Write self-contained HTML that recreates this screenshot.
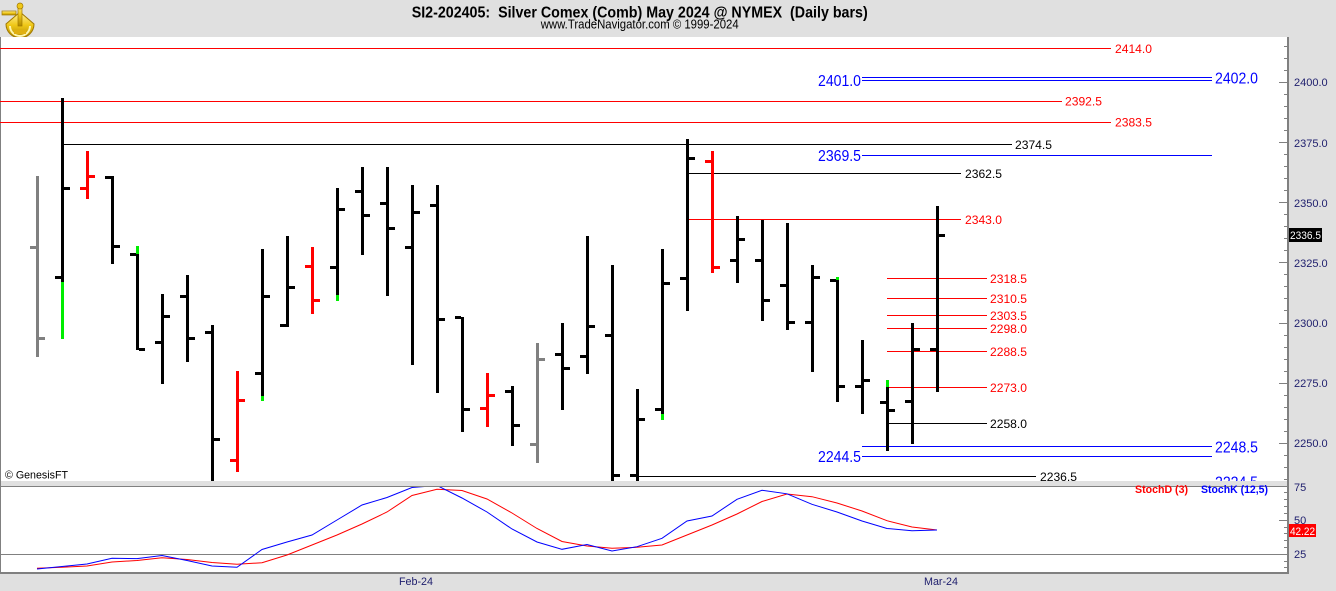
<!DOCTYPE html>
<html><head><meta charset="utf-8"><style>
html,body{margin:0;padding:0;background:#e0e0e0;}
svg{display:block;}
</style></head><body>
<svg width="1336" height="591" xmlns="http://www.w3.org/2000/svg" font-family="'Liberation Sans', Arial, sans-serif">
<defs>
<clipPath id="mc"><rect x="0" y="37" width="1287" height="444"/></clipPath>
<clipPath id="sc"><rect x="0" y="487" width="1287" height="85"/></clipPath>
<linearGradient id="gold" x1="0" y1="0" x2="0" y2="1"><stop offset="0" stop-color="#fff2a0"/><stop offset="0.5" stop-color="#f0c818"/><stop offset="1" stop-color="#b08a00"/></linearGradient>
</defs>
<rect width="1336" height="591" fill="#e0e0e0"/>
<!-- logo -->
<g>
<path d="M6 24 A14 14 0 0 0 34 24 L20 12 Z" fill="url(#gold)" stroke="#a07800" stroke-width="1"/>
<path d="M10 26 A10 10 0 0 0 30 26" fill="none" stroke="#fff6b0" stroke-width="2"/>
<rect x="2" y="11" width="14" height="4" fill="url(#gold)" stroke="#a07800" stroke-width="0.7"/>
<rect x="18" y="4" width="4" height="22" fill="url(#gold)" stroke="#a07800" stroke-width="0.7"/>
<circle cx="20" cy="6" r="3" fill="#f0c818" stroke="#a07800" stroke-width="0.7"/>
<rect x="14" y="30" width="12" height="4" fill="#e0b010"/>
</g>
<!-- title -->
<text x="411.7" y="17.5" font-size="16" font-weight="bold" fill="#000" textLength="456" lengthAdjust="spacingAndGlyphs" xml:space="preserve">SI2-202405:  Silver Comex (Comb) May 2024 @ NYMEX  (Daily bars)</text>
<text x="540.7" y="28.5" font-size="13" fill="#000" textLength="198" lengthAdjust="spacingAndGlyphs">www.TradeNavigator.com © 1999-2024</text>

<!-- panels -->
<rect x="0" y="37" width="1287" height="444" fill="#fff"/>
<rect x="0" y="486" width="1287" height="87" fill="#fff"/>
<rect x="0" y="486" width="1287" height="1" fill="#808080"/>
<rect x="0" y="554" width="1287" height="1" fill="#808080"/>
<rect x="0" y="572" width="1289" height="2" fill="#808080"/>
<rect x="0" y="37" width="1" height="537" fill="#808080"/>
<rect x="1287" y="37" width="2" height="537" fill="#808080"/>

<!-- price axis ticks -->
<g fill="#808080">
<rect x="1284" y="46" width="3" height="1"/><rect x="1284" y="58" width="3" height="1"/><rect x="1284" y="70" width="3" height="1"/>
<rect x="1279" y="82" width="8" height="1"/>
<rect x="1284" y="94" width="3" height="1"/><rect x="1284" y="106" width="3" height="1"/><rect x="1284" y="118" width="3" height="1"/><rect x="1284" y="130" width="3" height="1"/>
<rect x="1279" y="142" width="8" height="1"/>
<rect x="1284" y="154" width="3" height="1"/><rect x="1284" y="166" width="3" height="1"/><rect x="1284" y="178" width="3" height="1"/><rect x="1284" y="190" width="3" height="1"/>
<rect x="1279" y="202" width="8" height="1"/>
<rect x="1284" y="214" width="3" height="1"/><rect x="1284" y="226" width="3" height="1"/><rect x="1284" y="238" width="3" height="1"/><rect x="1284" y="250" width="3" height="1"/>
<rect x="1279" y="262" width="8" height="1"/>
<rect x="1284" y="274" width="3" height="1"/><rect x="1284" y="286" width="3" height="1"/><rect x="1284" y="298" width="3" height="1"/><rect x="1284" y="310" width="3" height="1"/>
<rect x="1279" y="323" width="8" height="1"/>
<rect x="1284" y="335" width="3" height="1"/><rect x="1284" y="347" width="3" height="1"/><rect x="1284" y="359" width="3" height="1"/><rect x="1284" y="371" width="3" height="1"/>
<rect x="1279" y="383" width="8" height="1"/>
<rect x="1284" y="395" width="3" height="1"/><rect x="1284" y="407" width="3" height="1"/><rect x="1284" y="419" width="3" height="1"/><rect x="1284" y="431" width="3" height="1"/>
<rect x="1279" y="443" width="8" height="1"/>
<rect x="1284" y="455" width="3" height="1"/><rect x="1284" y="467" width="3" height="1"/><rect x="1284" y="479" width="3" height="1"/>
<!-- stoch ticks -->
<rect x="1284" y="492" width="3" height="1"/><rect x="1284" y="499" width="3" height="1"/><rect x="1284" y="506" width="3" height="1"/><rect x="1284" y="513" width="3" height="1"/>
<rect x="1279" y="520" width="8" height="1"/>
<rect x="1284" y="527" width="3" height="1"/><rect x="1284" y="533" width="3" height="1"/><rect x="1284" y="540" width="3" height="1"/><rect x="1284" y="547" width="3" height="1"/>
<rect x="1284" y="554" width="3" height="1"/><rect x="1284" y="561" width="3" height="1"/><rect x="1284" y="567" width="3" height="1"/>
</g>

<!-- axis labels -->
<g font-size="11" fill="#20206e">
<text x="1294" y="86">2400.0</text>
<text x="1294" y="147">2375.0</text>
<text x="1294" y="207">2350.0</text>
<text x="1294" y="267">2325.0</text>
<text x="1294" y="327">2300.0</text>
<text x="1294" y="387">2275.0</text>
<text x="1294" y="447">2250.0</text>
<text x="1294" y="491">75</text>
<text x="1294" y="524">50</text>
<text x="1294" y="558">25</text>
<text x="399" y="585" textLength="34" lengthAdjust="spacingAndGlyphs">Feb-24</text>
<text x="924" y="585" textLength="34" lengthAdjust="spacingAndGlyphs">Mar-24</text>
</g>
<rect x="1289" y="228" width="33" height="14" fill="#000"/>
<text x="1290" y="239" font-size="11" fill="#fff" textLength="31" lengthAdjust="spacingAndGlyphs">2336.5</text>
<rect x="1289" y="524" width="27" height="13" fill="#ff0000"/>
<text x="1290" y="535" font-size="11" fill="#fff" textLength="25" lengthAdjust="spacingAndGlyphs">42.22</text>

<g clip-path="url(#mc)">
<!-- horizontal level lines -->
<rect x="0" y="48" width="1111" height="1" fill="#ff0000"/>
<rect x="862" y="77" width="350" height="1" fill="#0000ff"/>
<rect x="862" y="80" width="350" height="1" fill="#0000ff"/>
<rect x="0" y="101" width="1062" height="1" fill="#ff0000"/>
<rect x="0" y="122" width="1111" height="1" fill="#ff0000"/>
<rect x="63" y="144" width="949" height="1" fill="#000"/>
<rect x="862" y="155" width="350" height="1" fill="#0000ff"/>
<rect x="688" y="173" width="273" height="1" fill="#000"/>
<rect x="688" y="219" width="273" height="1" fill="#ff0000"/>
<rect x="887" y="278" width="100" height="1" fill="#ff0000"/>
<rect x="887" y="298" width="100" height="1" fill="#ff0000"/>
<rect x="887" y="315" width="100" height="1" fill="#ff0000"/>
<rect x="887" y="328" width="100" height="1" fill="#ff0000"/>
<rect x="887" y="351" width="100" height="1" fill="#ff0000"/>
<rect x="887" y="387" width="100" height="1" fill="#ff0000"/>
<rect x="889" y="423" width="98" height="1" fill="#000"/>
<rect x="862" y="446" width="350" height="1" fill="#0000ff"/>
<rect x="862" y="456" width="350" height="1" fill="#0000ff"/>
<rect x="637" y="476" width="399" height="1" fill="#000"/>

<!-- level labels -->
<g font-size="12">
<text x="1115" y="53" fill="#ff0000" textLength="37" lengthAdjust="spacingAndGlyphs">2414.0</text>
<text x="1065" y="105.7" fill="#ff0000" textLength="37" lengthAdjust="spacingAndGlyphs">2392.5</text>
<text x="1115" y="126.7" fill="#ff0000" textLength="37" lengthAdjust="spacingAndGlyphs">2383.5</text>
<text x="1015" y="149" fill="#000" textLength="37" lengthAdjust="spacingAndGlyphs">2374.5</text>
<text x="965" y="178" fill="#000" textLength="37" lengthAdjust="spacingAndGlyphs">2362.5</text>
<text x="965" y="224" fill="#ff0000" textLength="37" lengthAdjust="spacingAndGlyphs">2343.0</text>
<text x="990" y="283" fill="#ff0000" textLength="37" lengthAdjust="spacingAndGlyphs">2318.5</text>
<text x="990" y="303" fill="#ff0000" textLength="37" lengthAdjust="spacingAndGlyphs">2310.5</text>
<text x="990" y="320" fill="#ff0000" textLength="37" lengthAdjust="spacingAndGlyphs">2303.5</text>
<text x="990" y="333" fill="#ff0000" textLength="37" lengthAdjust="spacingAndGlyphs">2298.0</text>
<text x="990" y="356" fill="#ff0000" textLength="37" lengthAdjust="spacingAndGlyphs">2288.5</text>
<text x="990" y="392" fill="#ff0000" textLength="37" lengthAdjust="spacingAndGlyphs">2273.0</text>
<text x="990" y="428" fill="#000" textLength="37" lengthAdjust="spacingAndGlyphs">2258.0</text>
<text x="1040" y="481" fill="#000" textLength="37" lengthAdjust="spacingAndGlyphs">2236.5</text>
</g>
<g font-size="15.5" fill="#0000ff">
<text x="818" y="86" textLength="43" lengthAdjust="spacingAndGlyphs">2401.0</text>
<text x="1215" y="83.5" textLength="43" lengthAdjust="spacingAndGlyphs">2402.0</text>
<text x="818" y="161" textLength="43" lengthAdjust="spacingAndGlyphs">2369.5</text>
<text x="1215" y="452.3" textLength="43" lengthAdjust="spacingAndGlyphs">2248.5</text>
<text x="818" y="462" textLength="43" lengthAdjust="spacingAndGlyphs">2244.5</text>
<text x="1215" y="487.5" textLength="43" lengthAdjust="spacingAndGlyphs">2224.5</text>
</g>
<text x="5" y="478.5" font-size="11" fill="#000" textLength="63" lengthAdjust="spacingAndGlyphs">© GenesisFT</text>

<!-- bars -->
<g fill="#808080">
<rect x="36" y="176" width="3" height="181"/><rect x="30" y="246" width="6" height="3"/><rect x="39" y="337" width="6" height="3"/>
<rect x="536" y="343" width="3" height="120"/><rect x="530" y="443" width="6" height="3"/><rect x="539" y="358" width="6" height="3"/>
</g>
<g fill="#000">
<rect x="61" y="98" width="3" height="241"/><rect x="55" y="276" width="6" height="3"/><rect x="64" y="187" width="6" height="3"/>
<rect x="111" y="176" width="3" height="88"/><rect x="105" y="176" width="6" height="3"/><rect x="114" y="245" width="6" height="3"/>
<rect x="136" y="246" width="3" height="104"/><rect x="130" y="253" width="6" height="3"/><rect x="139" y="348" width="6" height="3"/>
<rect x="161" y="294" width="3" height="90"/><rect x="155" y="341" width="6" height="3"/><rect x="164" y="315" width="6" height="3"/>
<rect x="186" y="275" width="3" height="87"/><rect x="180" y="295" width="6" height="3"/><rect x="189" y="337" width="6" height="3"/>
<rect x="211" y="325" width="3" height="165"/><rect x="205" y="331" width="6" height="3"/><rect x="214" y="438" width="6" height="3"/>
<rect x="261" y="249" width="3" height="152"/><rect x="255" y="372" width="6" height="3"/><rect x="264" y="295" width="6" height="3"/>
<rect x="286" y="236" width="3" height="91"/><rect x="280" y="324" width="6" height="3"/><rect x="289" y="286" width="6" height="3"/>
<rect x="336" y="188" width="3" height="113"/><rect x="330" y="266" width="6" height="3"/><rect x="339" y="208" width="6" height="3"/>
<rect x="361" y="167" width="3" height="88"/><rect x="355" y="190" width="6" height="3"/><rect x="364" y="214" width="6" height="3"/>
<rect x="386" y="167" width="3" height="129"/><rect x="380" y="202" width="6" height="3"/><rect x="389" y="227" width="6" height="3"/>
<rect x="411" y="185" width="3" height="180"/><rect x="405" y="246" width="6" height="3"/><rect x="414" y="211" width="6" height="3"/>
<rect x="436" y="185" width="3" height="208"/><rect x="430" y="204" width="6" height="3"/><rect x="439" y="318" width="6" height="3"/>
<rect x="461" y="317" width="3" height="115"/><rect x="455" y="316" width="6" height="3"/><rect x="464" y="408" width="6" height="3"/>
<rect x="511" y="386" width="3" height="60"/><rect x="505" y="390" width="6" height="3"/><rect x="514" y="424" width="6" height="3"/>
<rect x="561" y="323" width="3" height="87"/><rect x="555" y="353" width="6" height="3"/><rect x="564" y="367" width="6" height="3"/>
<rect x="586" y="236" width="3" height="138"/><rect x="580" y="355" width="6" height="3"/><rect x="589" y="325" width="6" height="3"/>
<rect x="611" y="265" width="3" height="225"/><rect x="605" y="334" width="6" height="3"/><rect x="614" y="474" width="6" height="3"/>
<rect x="636" y="389" width="3" height="101"/><rect x="630" y="474" width="6" height="3"/><rect x="639" y="418" width="6" height="3"/>
<rect x="661" y="249" width="3" height="171"/><rect x="655" y="408" width="6" height="3"/><rect x="664" y="282" width="6" height="3"/>
<rect x="686" y="139" width="3" height="172"/><rect x="680" y="277" width="6" height="3"/><rect x="689" y="157" width="6" height="3"/>
<rect x="736" y="216" width="3" height="67"/><rect x="730" y="259" width="6" height="3"/><rect x="739" y="238" width="6" height="3"/>
<rect x="761" y="220" width="3" height="101"/><rect x="755" y="259" width="6" height="3"/><rect x="764" y="299" width="6" height="3"/>
<rect x="786" y="223" width="3" height="107"/><rect x="780" y="284" width="6" height="3"/><rect x="789" y="321" width="6" height="3"/>
<rect x="811" y="265" width="3" height="107"/><rect x="805" y="321" width="6" height="3"/><rect x="814" y="276" width="6" height="3"/>
<rect x="836" y="277" width="3" height="125"/><rect x="830" y="279" width="6" height="3"/><rect x="839" y="385" width="6" height="3"/>
<rect x="861" y="340" width="3" height="74"/><rect x="855" y="385" width="6" height="3"/><rect x="864" y="379" width="6" height="3"/>
<rect x="886" y="380" width="3" height="71"/><rect x="880" y="401" width="6" height="3"/><rect x="889" y="409" width="6" height="3"/>
<rect x="911" y="323" width="3" height="121"/><rect x="905" y="400" width="6" height="3"/><rect x="914" y="348" width="6" height="3"/>
<rect x="936" y="206" width="3" height="186"/><rect x="930" y="348" width="6" height="3"/><rect x="939" y="234" width="6" height="3"/>
</g>
<g fill="#ff0000">
<rect x="86" y="151" width="3" height="48"/><rect x="80" y="187" width="6" height="3"/><rect x="89" y="175" width="6" height="3"/>
<rect x="236" y="371" width="3" height="101"/><rect x="230" y="459" width="6" height="3"/><rect x="239" y="399" width="6" height="3"/>
<rect x="311" y="247" width="3" height="67"/><rect x="305" y="265" width="6" height="3"/><rect x="314" y="299" width="6" height="3"/>
<rect x="486" y="373" width="3" height="54"/><rect x="480" y="407" width="6" height="3"/><rect x="489" y="394" width="6" height="3"/>
<rect x="711" y="151" width="3" height="122"/><rect x="705" y="160" width="6" height="3"/><rect x="714" y="266" width="6" height="3"/>
</g>
<g fill="#00ee00">
<rect x="61" y="282" width="3" height="57"/>
<rect x="136" y="246" width="3" height="8"/>
<rect x="261" y="396" width="3" height="5"/>
<rect x="336" y="295" width="3" height="6"/>
<rect x="661" y="414" width="3" height="6"/>
<rect x="836" y="277" width="3" height="3"/>
<rect x="886" y="380" width="3" height="7"/>
</g>
</g>

<!-- stochastic -->
<g clip-path="url(#sc)" fill="none" stroke-width="1">
<polyline stroke="#ff0000" points="37,568.3 62,567.2 87,566 112,562 137,560.5 162,557.7 187,559.5 212,562.5 237,564.3 262,562.7 287,555 312,545 337,535 362,524 387,512 412,495.5 437,489.3 462,490.5 487,499 512,513 537,528.5 562,541.5 587,546 612,548.3 637,547.3 662,545 687,535 712,525 737,514 762,501.5 787,494 812,496.7 837,503 862,511 887,520.7 912,527 937,530"/>
<polyline stroke="#0000ff" points="37,569 62,566.5 87,564 112,558.3 137,558.6 162,555.5 187,560.5 212,566 237,567.3 262,549.5 287,542 312,535 337,520 362,505 387,497.5 412,487.5 437,485.5 462,498 487,512 512,529 537,542 562,549.3 587,544.5 612,551 637,546.7 662,538.3 687,521 712,516 737,499.3 762,490.3 787,493.8 812,504.3 837,512 862,521 887,528.5 912,530.7 937,530"/>
</g>
<text x="1135" y="493" font-size="11" font-weight="bold" fill="#ff0000" textLength="53" lengthAdjust="spacingAndGlyphs">StochD (3)</text>
<text x="1201" y="493" font-size="11" font-weight="bold" fill="#0000ff" textLength="67" lengthAdjust="spacingAndGlyphs">StochK (12,5)</text>
</svg>
</body></html>
